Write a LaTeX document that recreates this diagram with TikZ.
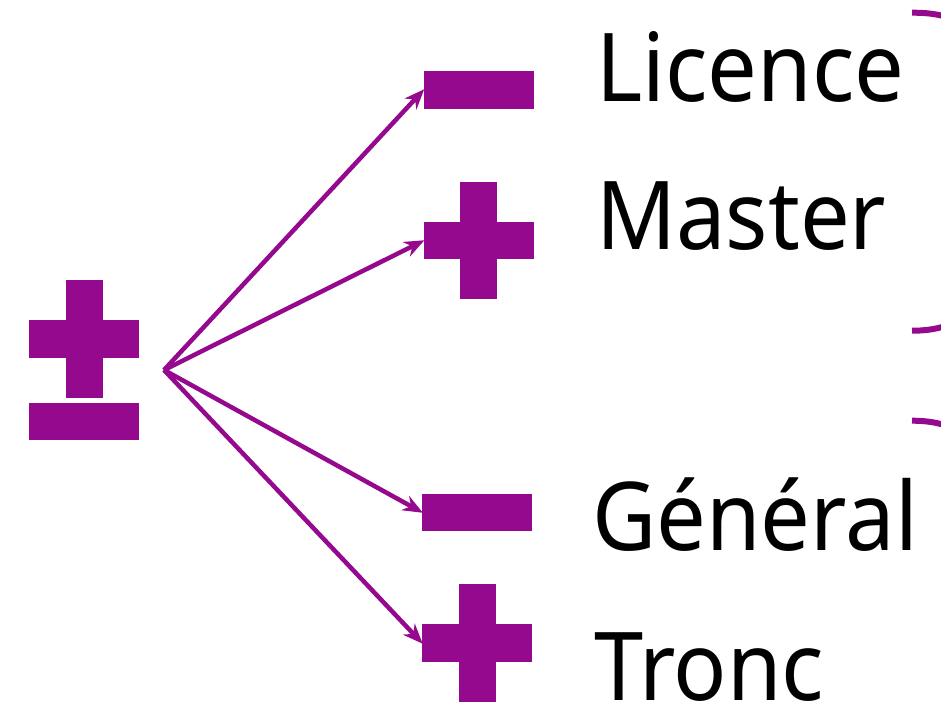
\documentclass[tikz,border=0pt]{standalone}
\usepackage{fontspec}
\setmainfont[FakeStretch=0.93]{Noto Sans}
\usetikzlibrary{arrows.meta}
\definecolor{violetmark}{RGB}{148,9,141}
\tikzset{
	barreh/.style={fill=violetmark, minimum width=110pt, minimum height=37.5pt, inner sep=0pt, outer sep=0pt},
	barrev/.style={fill=violetmark, minimum width=37pt, minimum height=117.5pt, inner sep=0pt, outer sep=0pt},
	fleche/.style={draw=violetmark, line width=4.5pt, -{Stealth[length=20pt, width=16pt]}, shorten >=-1pt},
	accolade/.style={draw=violetmark, line width=6pt},
	etiquette/.style={anchor=base west, inner sep=0pt, font=\fontsize{95}{100}\selectfont}
}
\begin{document}
\begin{tikzpicture}[x=1pt, y=-1pt]
	\useasboundingbox (0,0) rectangle (941,720);
	% Symbol plus-minus on the left
	\node[barreh] (pmh) at (84.2, 338.8) {};
	\node[barrev] at (pmh) {};
	\node[barreh] (pmm) at (84.2, 421.5) {};
	\coordinate (src) at (164, 370);
	
	% Right side marks
	\node[barreh] (lic) at (478.5, 90) {};
	\node[barreh] (mas) at (478.5, 240.7) {};
	\node[barrev] at (mas) {};
	\node[barreh] (gen) at (477, 512.3) {};
	\node[barreh] (tro) at (477, 643) {};
	\node[barrev] at (tro) {};
	
	% Labels
	\node[etiquette] (tlic) at (596, 101.7) {Licence};
	\node[etiquette] (tmas) at (596, 249.3) {Master};
	\node[etiquette] (tgen) at (592, 550) {Général};
	\node[etiquette] (ttro) at (594, 700.7) {Tronc};
	
	% Arrows
	\foreach \cible in {lic, mas, gen, tro}
		\draw[fleche] (src) -- (\cible.west);
	
	% Brace ends cut by the border
	\draw[accolade] (912, 12.7) .. controls (930, 12.7) and (945, 14.5) .. (965, 24);
	\draw[accolade] (912, 330.7) .. controls (930, 330.7) and (945, 328) .. (965, 318);
	\draw[accolade] (912, 420.7) .. controls (930, 420.7) and (945, 423.5) .. (965, 433);
\end{tikzpicture}
\end{document}
